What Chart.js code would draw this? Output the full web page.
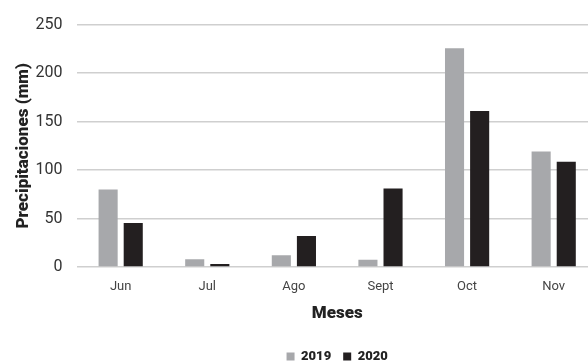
<!DOCTYPE html>
<html>
<head>
<meta charset="utf-8">
<script src="https://cdn.jsdelivr.net/npm/chart.js@4/dist/chart.umd.min.js"></script>
<style>
  html, body { margin: 0; padding: 0; background: #fff; overflow: hidden; }
  #wrap { width: 597px; height: 373px; }
</style>
</head>
<body>
<div id="wrap"><canvas id="c" width="597" height="373"></canvas></div>
<script>
// Monthly rainfall (mm), June to November
const meses = ['Jun', 'Jul', 'Ago', 'Sept', 'Oct', 'Nov'];
const lluvia2019 = [80, 8, 12, 7.5, 225.5, 119];
const lluvia2020 = [45.5, 3, 32, 81, 161, 108.5];
const ticksY = [0, 50, 100, 150, 200, 250];

const fuente = 'Roboto, "Noto Sans", sans-serif';

new Chart(document.getElementById('c'), {
  type: 'bar',
  data: {
    labels: meses,
    datasets: [
      { label: '2019', data: lluvia2019, backgroundColor: '#a7a8ab',
        categoryPercentage: 0.58, barPercentage: 0.76 },
      { label: '2020', data: lluvia2020, backgroundColor: '#231f20',
        categoryPercentage: 0.58, barPercentage: 0.76 }
    ]
  },
  options: {
    responsive: false,
    animation: false,
    layout: { padding: { top: 16, left: 14, right: 0, bottom: 0 } },
    plugins: {
      tooltip: { enabled: false },
      legend: {
        position: 'bottom',
        fullSize: false,
        labels: {
          boxWidth: 8, boxHeight: 8, padding: 12,
          color: '#222',
          font: { family: fuente, size: 13, weight: '900' }
        }
      }
    },
    scales: {
      x: {
        grid: { display: false, drawTicks: false },
        border: { display: false },
        ticks: { color: '#444', padding: 12, font: { family: fuente, size: 13 } },
        title: { display: true, text: 'Meses', color: '#222', padding: { top: -3, bottom: 14 },
                 font: { family: fuente, size: 17, weight: '900' } }
      },
      y: {
        min: 0, max: 250,
        afterBuildTicks: (axis) => { axis.ticks = ticksY.map(v => ({ value: v })); },
        grid: { color: '#cfcfcf', lineWidth: 1.5, drawTicks: false },
        border: { display: false },
        ticks: { color: '#333', padding: 15, font: { family: fuente, size: 16 } },
        title: { display: true, text: 'Precipitaciones (mm)', color: '#222', padding: { top: 0, bottom: -14 },
                 font: { family: fuente, size: 17, weight: '900' } }
      }
    }
  }
});
</script>
</body>
</html>
